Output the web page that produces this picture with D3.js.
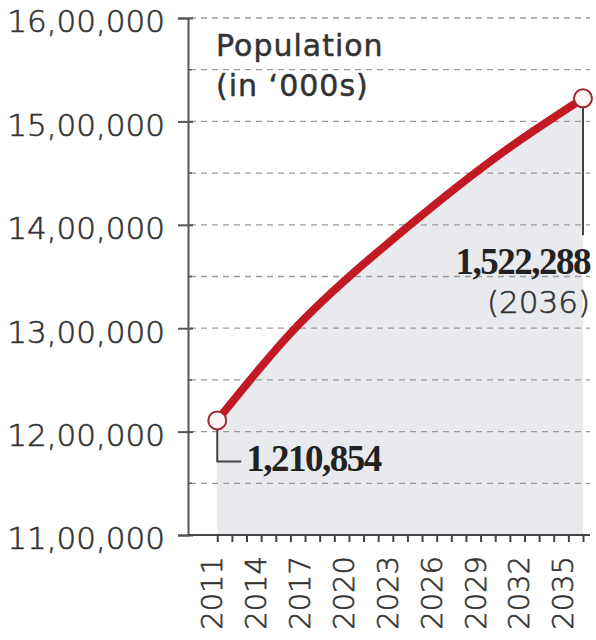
<!DOCTYPE html>
<html lang="en">
<head>
  <meta charset="UTF-8" />
  <title>Population projection</title>
  <script src="https://d3js.org/d3.v7.min.js"></script>
  <style>
    body{margin:0;background:#fff}
    svg{display:block}
    .ylab{font-family:"DejaVu Sans",sans-serif;font-weight:300;font-size:31px;fill:#333;stroke:#333;stroke-width:.6}
    .xlab{font-family:"DejaVu Sans",sans-serif;font-weight:300;font-size:29px;fill:#333;stroke:#333;stroke-width:.6}
    .title{font-family:"DejaVu Sans",sans-serif;font-weight:400;font-size:30px;fill:#333;stroke:#333;stroke-width:.5;letter-spacing:1px}
    .note{font-family:"Liberation Serif",serif;font-weight:700;font-size:37px;fill:#222}
  </style>
</head>
<body>
  <div id="chart"></div>
  <script>
    // projected population (in '000s)
    const years = [2011, 2016, 2021, 2026, 2031, 2036];
    const population = [1210854, 1295000, 1362000, 1421000, 1475000, 1522288];
    const yTicks = [1100000, 1200000, 1300000, 1400000, 1500000, 1600000];
    const yearLabels = [2011, 2014, 2017, 2020, 2023, 2026, 2029, 2032, 2035];
    const titleLines = ["Population", "(in \u2018000s)"];

    const data = years.map((yr, i) => ({year: yr, value: population[i]}));
    const W = 596, H = 640;
    const svg = d3.select("#chart").append("svg").attr("width", W).attr("height", H);

    const x = d3.scaleLinear().domain([2009, 2036]).range([188, 583]);
    const y = d3.scaleLinear().domain([1100000, 1600000]).range([535, 18]);
    const right = 590;

    // indian digit grouping for the axis
    const indian = d => {
      const s = String(d), last = s.slice(-3), rest = s.slice(0, -3);
      return rest.replace(/\B(?=(\d{2})+(?!\d))/g, ",") + "," + last;
    };

    // area under the line
    svg.append("path").datum(data)
      .attr("fill", "#e9eaee")
      .attr("d", d3.area().curve(d3.curveNatural)
        .x(d => x(d.year)).y0(y(1100000)).y1(d => y(d.value)));

    // dashed grid every 50,000
    const grid = d3.range(1150000, 1600001, 50000);
    svg.append("g").selectAll("line").data(grid).enter().append("line")
      .attr("x1", 190).attr("x2", right)
      .attr("y1", d => y(d)).attr("y2", d => y(d))
      .attr("stroke", "#9a9a9a").attr("stroke-width", 1.3)
      .attr("stroke-dasharray", "6,5");

    // y axis
    const gy = svg.append("g").attr("transform", `translate(${x(2009)},0)`)
      .call(d3.axisLeft(y).tickValues(yTicks).tickFormat(indian).tickSize(10).tickPadding(13));
    gy.select(".domain").attr("stroke", "#555").attr("stroke-width", 2);
    gy.selectAll(".tick line").attr("x2", -10).attr("x1", 5).attr("stroke", "#555").attr("stroke-width", 2);
    gy.selectAll(".tick text").attr("class", "ylab").attr("dy", "0.45em").attr("fill", null);
    gy.selectAll(".minor").data(grid.filter(d => d % 100000)).enter().append("line")
      .attr("x1", 0).attr("x2", 4).attr("y1", d => y(d)).attr("y2", d => y(d))
      .attr("stroke", "#555").attr("stroke-width", 1.5);

    // x axis
    const gx = svg.append("g").attr("transform", `translate(0,${y(1100000)})`)
      .call(d3.axisBottom(x).tickValues(d3.range(2011, 2037)).tickSize(7).tickFormat(""));
    gx.select(".domain").remove();
    gx.selectAll(".tick line").attr("stroke", "#444").attr("stroke-width", 2);
    gx.append("line").attr("x1", x(2009)).attr("x2", right).attr("stroke", "#444").attr("stroke-width", 2);
    gx.selectAll(".xl").data(yearLabels).enter().append("text")
      .attr("class", "xlab")
      .attr("text-anchor", "end")
      .attr("transform", d => `translate(${x(d) + 5},21) rotate(-90)`)
      .text(d => d);

    // line
    svg.append("path").datum(data)
      .attr("fill", "none").attr("stroke", "#c21a24").attr("stroke-width", 8)
      .attr("stroke-linecap", "round")
      .attr("d", d3.line().curve(d3.curveNatural).x(d => x(d.year)).y(d => y(d.value)));

    const first = data[0], last = data[data.length - 1];

    // leaders
    svg.append("path")
      .attr("d", `M${x(first.year)},${y(first.value)}V${y(first.value) + 41}H${x(first.year) + 24}`)
      .attr("fill", "none").attr("stroke", "#444").attr("stroke-width", 2);
    svg.append("line")
      .attr("x1", x(last.year)).attr("x2", x(last.year))
      .attr("y1", y(last.value)).attr("y2", y(last.value) + 137)
      .attr("stroke", "#444").attr("stroke-width", 2);

    // end markers
    svg.selectAll(".end").data([first, last]).enter().append("circle")
      .attr("cx", d => x(d.year)).attr("cy", d => y(d.value)).attr("r", 9)
      .attr("fill", "#fff5f5").attr("stroke", "#9c2a30").attr("stroke-width", 2);

    // annotations
    svg.append("text").attr("class", "note")
      .attr("x", x(first.year) + 29).attr("y", y(first.value) + 51)
      .attr("letter-spacing", "-1.5")
      .text(d3.format(",")(first.value));
    svg.append("text").attr("class", "note")
      .attr("x", right).attr("y", y(last.value) + 176).attr("text-anchor", "end")
      .attr("letter-spacing", "-1.5")
      .text(d3.format(",")(last.value));
    svg.append("text").attr("class", "xlab")
      .attr("x", right).attr("y", y(last.value) + 215).attr("text-anchor", "end")
      .style("font-size", "31px")
      .text(`(${last.year})`);

    // title
    svg.selectAll(".title").data(titleLines).enter().append("text")
      .attr("class", "title")
      .attr("x", 216).attr("y", (d, i) => 56 + i * 40)
      .text(d => d);
  </script>
</body>
</html>
